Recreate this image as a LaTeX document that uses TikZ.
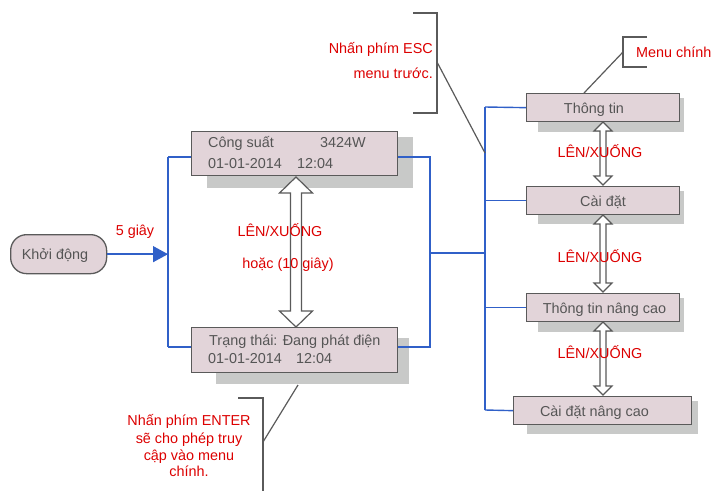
\documentclass[tikz,border=0pt]{standalone}
\usepackage{fontspec}
\setmainfont{Liberation Sans}
\usetikzlibrary{arrows.meta,calc}
\definecolor{boxpink}{RGB}{226,212,217}
\definecolor{shadowg}{RGB}{200,201,200}
\definecolor{edgeg}{RGB}{90,90,90}
\definecolor{txtg}{RGB}{85,85,85}
\definecolor{redt}{RGB}{220,0,0}
\definecolor{blueline}{RGB}{48,96,200}
\newcommand\updown[6]{\draw[hollow] (#1,#2) -- (#1+#5,#2+#6) -- (#1+#4,#2+#6) -- (#1+#4,#3-#6) -- (#1+#5,#3-#6) -- (#1,#3) -- (#1-#5,#3-#6) -- (#1-#4,#3-#6) -- (#1-#4,#2+#6) -- (#1-#5,#2+#6) -- cycle;}
\begin{document}
\begin{tikzpicture}[x=1pt,y=-1pt,font=\fontsize{14.4}{17}\selectfont,
  menubox/.style={draw=edgeg,line width=1.3pt,fill=boxpink,anchor=north west,inner sep=0pt},
  shadowbox/.style={fill=shadowg,draw=none},
  gtext/.style={text=txtg,inner sep=0pt,anchor=base},
  gleft/.style={text=txtg,inner sep=0pt,anchor=base west},
  rtext/.style={text=redt,inner sep=0pt,anchor=base},
  bline/.style={draw=blueline,line width=1.4pt},
  callout/.style={draw=edgeg,line width=1.2pt},
  hollow/.style={draw=edgeg,line width=1.2pt,fill=white,line join=miter}]
\useasboundingbox (0,0) rectangle (713,491);

% shadows
\fill[shadowg] (207,137) rectangle (413,188);
\fill[shadowg] (216,338) rectangle (409,384);
\fill[shadowg] (538,98) rectangle (684,132);
\fill[shadowg] (538,191) rectangle (684,224);
\fill[shadowg] (538,298) rectangle (684,332);
\fill[shadowg] (527,401) rectangle (698,434);

% junction coordinates
\coordinate (jla) at (168,157);
\coordinate (jlb) at (168,347);
\coordinate (jlm) at (168,253.5);
\coordinate (jra) at (430,157);
\coordinate (jrb) at (430,347);
\coordinate (jrm) at (430,253);
\coordinate (jma) at (485,107);
\coordinate (jmm) at (485,253);
\coordinate (jmb) at (485,410);

% nodes
\node[draw=edgeg,line width=1.3pt,fill=boxpink,rounded corners=16pt,minimum width=96pt,minimum height=39pt,inner sep=0pt,anchor=north west] (start) at (10,234) {};
\node[menubox,minimum width=206pt,minimum height=44pt] (pw) at (191,131) {};
\node[menubox,minimum width=206pt,minimum height=45pt] (st) at (191,327) {};
\node[menubox,minimum width=153pt,minimum height=28pt] (m1) at (526,93) {};
\node[menubox,minimum width=153pt,minimum height=28pt] (m2) at (526,186) {};
\node[menubox,minimum width=153pt,minimum height=28pt] (m3) at (526,293) {};
\node[menubox,minimum width=178pt,minimum height=28pt] (m4) at (513,396) {};

% blue connectors
\draw[bline,-{Triangle[length=15pt,width=16pt]}] (start.east) -- (jlm |- start.east);
\draw[bline] (jla) -- (jlb);
\draw[bline] (jla) -- (pw.west |- jla);
\draw[bline] (jlb) -- (st.west |- jlb);
\draw[bline] (pw.east |- jra) -- (jra) -- (jrb) -- (st.east |- jrb);
\draw[bline] (jrm) -- (jmm);
\draw[bline] (jma) -- (jmb);
\draw[bline] (jma) -- (m1.west);
\draw[bline] (jma |- m2.west) -- (m2.west);
\draw[bline] (jma |- m3.west) -- (m3.west);
\draw[bline] (jmb) -- (m4.west);

% hollow double arrows
\updown{296}{177}{327}{5.5}{16.5}{16}
\updown{603}{122}{185}{3}{9}{9}
\updown{603}{215}{292}{3}{9}{9}
\updown{603}{322}{395}{3}{9}{9}

% box texts
\node[gtext] (tstart) at (55,259) {Khởi động};
\node[gleft] (t1a) at (208,147) {Công suất};
\node[gleft] (t1b) at (320,147) {3424W};
\node[gleft] (t1c) at (208,168) {01-01-2014};
\node[gleft] (t1d) at (297,168) {12:04};
\node[gleft] (t2a) at (209,345) {Trạng thái: Đang phát điện};
\node[gleft] (t2c) at (208,363) {01-01-2014};
\node[gleft] (t2d) at (296,363) {12:04};
\node[gtext] (tm1) at (594,113) {Thông tin};
\node[gtext] (tm2) at (603,206) {Cài đặt};
\node[gtext] (tm3) at (604.5,313) {Thông tin nâng cao};
\node[gtext] (tm4) at (594.5,416) {Cài đặt nâng cao};

% red labels
\node[rtext] (l5) at (135,235) {5 giây};
\node[rtext] (lud) at (280,236) {LÊN/XUỐNG};
\node[rtext] (lor) at (288,268) {hoặc (10 giây)};
\node[rtext] (lr1) at (600,157) {LÊN/XUỐNG};
\node[rtext] (lr2) at (600,262) {LÊN/XUỐNG};
\node[rtext] (lr3) at (600,358) {LÊN/XUỐNG};
\node[rtext,anchor=base east] (esc1) at (433,53) {Nhấn phím ESC};
\node[rtext,anchor=base east] (esc2) at (433,78) {menu trước.};
\node[rtext,anchor=base west] (mc) at (636,57) {Menu chính};
\node[rtext] (en1) at (189,425) {Nhấn phím ENTER};
\node[rtext] (en2) at (189,443) {sẽ cho phép truy};
\node[rtext] (en3) at (189,460) {cập vào menu};
\node[rtext] (en4) at (189,476) {chính.};

% callouts
\coordinate (escb) at (437,62);
\draw[callout] (413,13) -- (437,13) -- (437,113) -- (413,113);
\draw[callout] (escb) -- (jmm |- 0,153);
\coordinate (mcb) at (623,52);
\draw[callout] (647,37) -- (623,37) -- (623,67) -- (647,67);
\draw[callout] (mcb) -- (m1.north -| 584,0);
\coordinate (enb) at (263,442);
\draw[callout] (238,398) -- (263,398) -- (263,491);
\draw[callout] (enb) -- (298,385);
\end{tikzpicture}
\end{document}
